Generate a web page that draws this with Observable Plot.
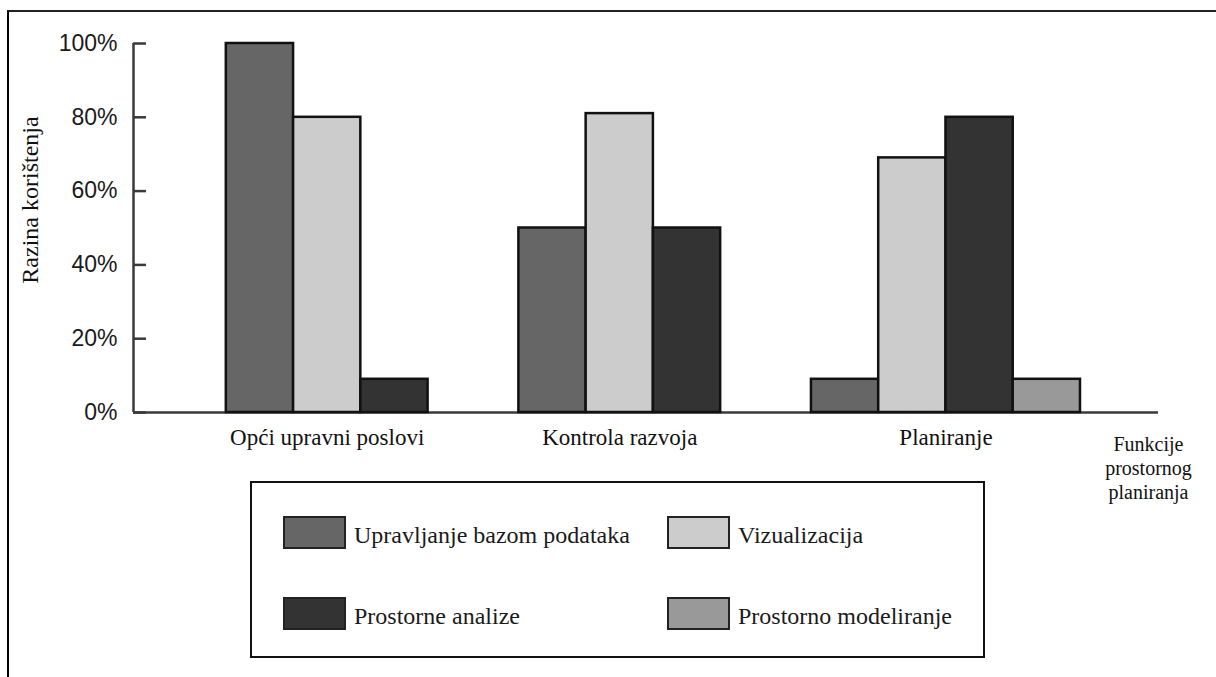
<!DOCTYPE html>
<html>
<head>
<meta charset="utf-8">
<script src="https://cdn.jsdelivr.net/npm/d3@7"></script>
<script src="https://cdn.jsdelivr.net/npm/@observablehq/plot@0.6"></script>
<style>
  html, body { margin: 0; padding: 0; background: #fff; }
  body { width: 1216px; height: 677px; position: relative; overflow: hidden; }
  #frame { position: absolute; left: 7px; top: 10px; width: 1220px; height: 700px;
           border-top: 2.5px solid #222; border-left: 2.5px solid #000; }
  #chart { position: absolute; left: 0; top: 0; }
  #legend { position: absolute; left: 250px; top: 481px; width: 735px; height: 177px;
            box-sizing: border-box; border: 2px solid #111; background: #fff;
            padding: 33px 0 0 31px; display: grid; grid-template-columns: 384px auto;
            grid-auto-rows: 33px; align-content: start;
            row-gap: 48px; font-family: "Liberation Serif", "Tinos", "Times New Roman", Times, "DejaVu Serif", "Noto Serif", serif;
            font-size: 24px; color: #1a1a1a; }
  .item { display: flex; align-items: center; height: 33px; }
  .sw { width: 63px; height: 33px; box-sizing: border-box; border: 2px solid #222; margin-right: 8px; flex: none; }
  .lbl { padding-top: 5px; white-space: nowrap; }
</style>
</head>
<body>
<div id="frame"></div>
<div id="chart"></div>
<div id="legend"></div>
<script>
// ---- data ----
const groups = ["Opći upravni poslovi", "Kontrola razvoja", "Planiranje"];
const series = ["Upravljanje bazom podataka", "Vizualizacija", "Prostorne analize", "Prostorno modeliranje"];
const upravljanjeBazom = [100, 50, 9];
const vizualizacija = [80, 81, 69];
const prostorneAnalize = [9, 50, 80];
const prostornoModeliranje = [null, null, 9];
const colors = ["#666666", "#cccccc", "#333333", "#999999"];
const yTicks = [0, 20, 40, 60, 80, 100];
const xTitle = "Funkcije\nprostornog\nplaniranja";
const yTitle = "Razina korištenja";

// ---- layout constants (in bar-slot units) ----
const firstOffset = 1.38, groupStep = 4.35, xMax = 15.24;

const valuesBySeries = [upravljanjeBazom, vizualizacija, prostorneAnalize, prostornoModeliranje];
const bars = [];
groups.forEach((g, gi) => {
  series.forEach((s, si) => {
    const v = valuesBySeries[si][gi];
    if (v != null) bars.push({group: g, gi, series: s, si, value: v});
  });
});
const start = gi => firstOffset + gi * groupStep;
const groupLabels = groups.map((g, gi) => ({
  group: g, gi, n: bars.filter(b => b.gi === gi).length
}));

const serif = '"Liberation Serif", "Tinos", "Times New Roman", Times, "DejaVu Serif", "Noto Serif", serif';
const sans = '"Liberation Sans", Arial, Helvetica, sans-serif';

const chart = Plot.plot({
  width: 1216,
  height: 510,
  marginLeft: 133,
  marginRight: 58,
  marginTop: 43,
  marginBottom: 98,
  style: {background: "transparent", overflow: "visible"},
  x: {type: "linear", domain: [0, xMax], axis: null},
  y: {domain: [0, 100], axis: null},
  color: {domain: series, range: colors},
  marks: [
    Plot.ruleY([0], {stroke: "#3a3a3a", strokeWidth: 2.5}),
    Plot.ruleX([0], {y1: 0, y2: 100, stroke: "#3a3a3a", strokeWidth: 2.5}),
    Plot.axisY(yTicks, {
      tickFormat: d => d + "%", tickSize: 13, dx: 13, tickPadding: 16,
      stroke: "#3a3a3a", strokeWidth: 2.5, fill: "#1a1a1a",
      fontSize: 23, fontFamily: sans, label: null
    }),
    Plot.rectY(bars, {
      x1: d => start(d.gi) + d.si,
      x2: d => start(d.gi) + d.si + 1,
      y: "value",
      fill: "series",
      stroke: "#111",
      strokeWidth: 2.5
    }),
    Plot.text(groupLabels, {
      x: d => start(d.gi) + d.n / 2,
      text: "group",
      frameAnchor: "bottom",
      textAnchor: "middle",
      lineAnchor: "top",
      dy: 16,
      fontSize: 23,
      fontFamily: serif,
      fill: "#111"
    }),
    Plot.text([xTitle], {
      frameAnchor: "bottom-right",
      textAnchor: "middle",
      lineAnchor: "top",
      lineHeight: 1.2,
      dx: -10,
      dy: 21,
      fontSize: 20,
      fontFamily: serif,
      fill: "#111"
    }),
    Plot.text([yTitle], {
      frameAnchor: "left",
      textAnchor: "middle",
      lineAnchor: "middle",
      rotate: -90,
      dx: -103,
      dy: -28,
      fontSize: 24,
      fontFamily: serif,
      fill: "#111"
    })
  ]
});
document.getElementById("chart").appendChild(chart);

// legend
const legend = d3.select("#legend");
series.forEach((s, i) => {
  const item = legend.append("div").attr("class", "item");
  item.append("div").attr("class", "sw").style("background", colors[i]);
  item.append("div").attr("class", "lbl").text(s);
});
</script>
</body>
</html>
